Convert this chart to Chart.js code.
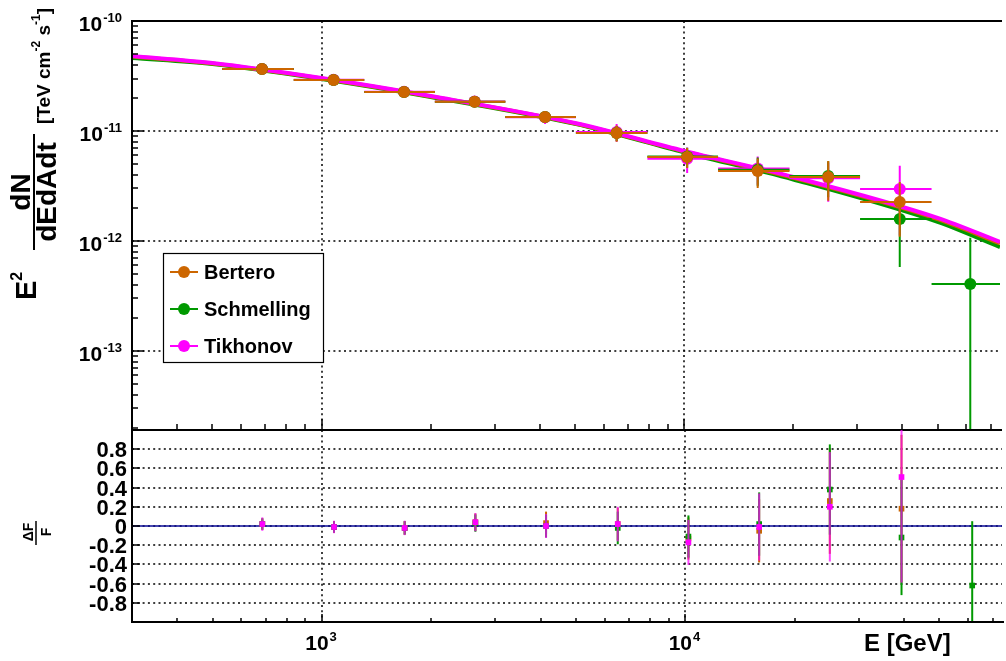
<!DOCTYPE html>
<html lang="en">
<head>
<meta charset="UTF-8">
<title>Unfolded spectrum</title>
<script src="https://cdn.jsdelivr.net/npm/chart.js"></script>
<style>
  body { margin: 0; background: #fff; }
  #wrap { position: relative; width: 1006px; height: 661px; }
  canvas { position: absolute; left: 0; top: 0; }
</style>
</head>
<body>
<div id="wrap">
  <canvas id="fluxChart" width="1006" height="661"></canvas>
  <canvas id="resChart" width="1006" height="661"></canvas>
</div>
<script>
// energy bins (GeV)
var energy   = [685, 1079, 1688, 2642, 4134, 6512, 10190, 15950, 24960, 39310, 61520];
var binEdges = [532, 838, 1311, 2053, 3212, 5028, 7916, 12400, 19520, 30550, 48110, 75290];

// unfolded flux E^2 dN/dEdAdt [TeV cm-2 s-1]
var berteroFlux    = [3.66e-11, 2.91e-11, 2.26e-11, 1.84e-11, 1.34e-11, 9.6e-12, 5.8e-12, 4.33e-12, 3.82e-12, 2.26e-12, null];
var berteroErr     = [2.2e-12, 1.8e-12, 1.6e-12, 1.6e-12, 1.6e-12, 1.6e-12, 1.2e-12, 1.3e-12, 1.5e-12, 1.17e-12, null];
var schmellingFlux = [3.66e-11, 2.91e-11, 2.26e-11, 1.84e-11, 1.34e-11, 9.6e-12, 5.85e-12, 4.45e-12, 3.90e-12, 1.58e-12, 4.07e-13];
var schmellingErr  = [2.2e-12, 1.8e-12, 1.6e-12, 1.6e-12, 1.6e-12, 1.5e-12, 1.2e-12, 1.3e-12, 1.4e-12, 1.0e-12, 6.6e-13];
var tikhonovFlux   = [3.67e-11, 2.92e-11, 2.27e-11, 1.85e-11, 1.33e-11, 9.8e-12, 5.6e-12, 4.55e-12, 3.72e-12, 2.97e-12, null];
var tikhonovErr    = [2.5e-12, 1.9e-12, 1.7e-12, 1.7e-12, 1.7e-12, 1.8e-12, 1.46e-12, 1.3e-12, 1.45e-12, 1.85e-12, null];

// fitted spectra
var fitEnergy     = [300, 500, 1000, 2000, 5000, 10000, 20000, 50000, 74300];
var berteroFit    = [4.75e-11, 4.10e-11, 3.00e-11, 2.06e-11, 1.17e-11, 6.50e-12, 3.75e-12, 1.58e-12, 9.5e-13];
var schmellingFit = [4.61e-11, 4.06e-11, 2.97e-11, 2.04e-11, 1.16e-11, 6.38e-12, 3.62e-12, 1.49e-12, 8.8e-13];
var tikhonovFit   = [4.81e-11, 4.15e-11, 3.03e-11, 2.08e-11, 1.18e-11, 6.58e-12, 3.82e-12, 1.62e-12, 9.8e-13];

// residuals dF/F
var berteroRes       = [0.02, -0.01, -0.02, 0.04, 0.03, 0.02, -0.13, -0.05, 0.26, 0.18, null];
var berteroResErr    = [0.06, 0.06, 0.07, 0.09, 0.12, 0.17, 0.22, 0.33, 0.55, 0.77, null];
var schmellingRes    = [0.02, -0.01, -0.02, 0.03, 0.0, -0.02, -0.11, 0.02, 0.38, -0.12, -0.62];
var schmellingResErr = [0.06, 0.06, 0.07, 0.09, 0.12, 0.17, 0.22, 0.33, 0.47, 0.60, 0.67];
var tikhonovRes      = [0.02, -0.01, -0.02, 0.04, 0.0, 0.02, -0.17, -0.01, 0.20, 0.51, null];
var tikhonovResErr   = [0.07, 0.065, 0.075, 0.095, 0.125, 0.18, 0.235, 0.35, 0.57, 1.10, null];

var seriesNames  = ['Bertero', 'Schmelling', 'Tikhonov'];
var seriesColors = ['rgb(204,102,0)', 'rgb(0,153,0)', 'rgb(255,0,255)'];

// axes
var xMin = 300, xMax = 74300;
var yMin = 1.91e-14, yMax = 1e-10;
var xLabelValues = [1000, 10000], xLabelExp = ['3', '4'];
var yLabelValues = [1e-10, 1e-11, 1e-12, 1e-13], yLabelExp = ['-10', '-11', '-12', '-13'];
var resTickValues = [0.8, 0.6, 0.4, 0.2, 0, -0.2, -0.4, -0.6, -0.8];
var resTickLabels = ['0.8', '0.6', '0.4', '0.2', '0', '-0.2', '-0.4', '-0.6', '-0.8'];

var FONT = "'Liberation Sans', Arial, Helvetica, sans-serif";

function logMinorTicks(lo, hi) {
  var out = [];
  for (var k = Math.floor(Math.log10(lo)); k <= Math.ceil(Math.log10(hi)); k++) {
    for (var m = 1; m <= 9; m++) {
      var v = m * Math.pow(10, k);
      if (v >= lo && v <= hi) out.push({ v: v, major: m === 1 });
    }
  }
  return out;
}

function pointsOf(vals, errs, withBins) {
  var out = [];
  energy.forEach(function (e, i) {
    if (vals[i] === null) return;
    var p = { x: e, y: vals[i], err: errs[i] };
    if (withBins) { p.xl = binEdges[i]; p.xh = binEdges[i + 1]; }
    out.push(p);
  });
  return out;
}

function curveOf(vals) {
  return fitEnergy.map(function (e, i) { return { x: e, y: vals[i] }; });
}

function drawErrors(chart, ds) {
  var ctx = chart.ctx, a = chart.chartArea, xs = chart.scales.x, ys = chart.scales.y;
  ctx.save();
  ctx.beginPath(); ctx.rect(a.left, a.top, a.right - a.left, a.bottom - a.top); ctx.clip();
  ctx.strokeStyle = ds.errColor || ds.backgroundColor;
  ctx.lineWidth = 2;
  ds.data.forEach(function (p) {
    var px = xs.getPixelForValue(p.x), py = ys.getPixelForValue(p.y);
    var lo = p.y - p.err;
    var pyLo = (ys.type === 'logarithmic' && lo <= 0) ? a.bottom + 5 : ys.getPixelForValue(lo);
    ctx.beginPath();
    ctx.moveTo(px, ys.getPixelForValue(p.y + p.err));
    ctx.lineTo(px, pyLo);
    if (p.xl) {
      ctx.moveTo(xs.getPixelForValue(p.xl), py);
      ctx.lineTo(xs.getPixelForValue(p.xh), py);
    }
    ctx.stroke();
  });
  ctx.restore();
}

// draw "10^exp"
function drawPower(ctx, exp, x, y, align, big, small, rise) {
  ctx.font = 'bold ' + big + 'px ' + FONT;
  var wb = ctx.measureText('10').width;
  ctx.font = 'bold ' + small + 'px ' + FONT;
  var ws = ctx.measureText(exp).width;
  var left = align === 'right' ? x - wb - ws - 1 : x - (wb + ws + 1) / 2;
  ctx.textAlign = 'left';
  ctx.textBaseline = 'alphabetic';
  ctx.font = 'bold ' + big + 'px ' + FONT;
  ctx.fillText('10', left, y);
  ctx.font = 'bold ' + small + 'px ' + FONT;
  ctx.fillText(exp, left + wb + 1, y - rise);
}

// rotated rich text, running upward from (x, y)
function drawRotRich(ctx, parts, x, y, center) {
  ctx.save();
  ctx.translate(x, y);
  ctx.rotate(-Math.PI / 2);
  ctx.textAlign = 'left';
  ctx.textBaseline = 'alphabetic';
  var total = 0;
  parts.forEach(function (p) { ctx.font = 'bold ' + p.size + 'px ' + FONT; total += ctx.measureText(p.t).width; });
  var pos = center ? -total / 2 : 0;
  parts.forEach(function (p) {
    ctx.font = 'bold ' + p.size + 'px ' + FONT;
    ctx.fillText(p.t, pos, -(p.rise || 0));
    pos += ctx.measureText(p.t).width;
  });
  ctx.restore();
}

function hLine(ctx, x1, x2, y) { ctx.beginPath(); ctx.moveTo(x1, y); ctx.lineTo(x2, y); ctx.stroke(); }
function vLine(ctx, x, y1, y2) { ctx.beginPath(); ctx.moveTo(x, y1); ctx.lineTo(x, y2); ctx.stroke(); }

var xTicks = logMinorTicks(xMin, xMax);
var yTicks = logMinorTicks(yMin, yMax);

var fluxDecor = {
  id: 'fluxDecor',
  beforeDatasetsDraw: function (chart) {
    var ctx = chart.ctx, a = chart.chartArea, xs = chart.scales.x, ys = chart.scales.y;
    ctx.save();
    ctx.strokeStyle = '#000'; ctx.lineWidth = 1.5; ctx.setLineDash([2, 3.3]);
    xLabelValues.forEach(function (v) { vLine(ctx, Math.round(xs.getPixelForValue(v)), a.top, a.bottom); });
    yLabelValues.slice(1).forEach(function (v) { hLine(ctx, a.left, a.right, Math.round(ys.getPixelForValue(v))); });
    ctx.restore();
  },
  beforeDatasetDraw: function (chart, args) {
    var ds = chart.data.datasets[args.index];
    if (ds.hasErrors) drawErrors(chart, ds);
  },
  afterDatasetsDraw: function (chart) {
    var ctx = chart.ctx, a = chart.chartArea, xs = chart.scales.x, ys = chart.scales.y;
    ctx.save();
    ctx.strokeStyle = '#000'; ctx.fillStyle = '#000'; ctx.lineWidth = 1.5;
    // ticks
    xTicks.forEach(function (t) {
      var px = Math.round(xs.getPixelForValue(t.v));
      vLine(ctx, px, a.bottom, a.bottom - (t.major ? 11 : 6));
    });
    yTicks.forEach(function (t) {
      var py = Math.round(ys.getPixelForValue(t.v));
      hLine(ctx, a.left, a.left + (t.major ? 12 : 6), py);
    });
    // frame
    ctx.lineWidth = 2;
    ctx.beginPath();
    ctx.moveTo(a.right + 2, a.top); ctx.lineTo(a.left, a.top); ctx.lineTo(a.left, a.bottom); ctx.lineTo(a.right + 2, a.bottom);
    ctx.stroke();
    // y labels
    yLabelValues.forEach(function (v, i) {
      drawPower(ctx, yLabelExp[i], 122, Math.round(ys.getPixelForValue(v)) + 10, 'right', 21, 13, 9);
    });
    // y title
    drawRotRich(ctx, [{ t: 'E', size: 29 }, { t: '2', size: 16, rise: 14 }], 36, 300, false);
    drawRotRich(ctx, [{ t: 'dN', size: 28 }], 30, 192, true);
    drawRotRich(ctx, [{ t: 'dEdAdt', size: 28 }], 56, 192, true);
    ctx.lineWidth = 2;
    vLine(ctx, 34, 134, 250);
    drawRotRich(ctx, [{ t: '[TeV cm', size: 19 }, { t: '-2', size: 12, rise: 10 }, { t: ' s', size: 19 },
      { t: '-1', size: 12, rise: 10 }, { t: ']', size: 19 }], 50, 124, false);
    // legend
    ctx.fillStyle = '#fff';
    ctx.fillRect(163, 253, 161, 110);
    ctx.strokeStyle = '#000'; ctx.lineWidth = 1.2;
    ctx.strokeRect(163.5, 253.5, 160, 109);
    var rows = [272, 309, 346];
    seriesNames.forEach(function (name, i) {
      ctx.strokeStyle = seriesColors[i]; ctx.lineWidth = 2;
      hLine(ctx, 170, 198, rows[i]);
      ctx.fillStyle = seriesColors[i];
      ctx.beginPath(); ctx.arc(184, rows[i], 6, 0, Math.PI * 2); ctx.fill();
      ctx.fillStyle = '#000';
      ctx.font = 'bold 20px ' + FONT; ctx.textAlign = 'left'; ctx.textBaseline = 'alphabetic';
      ctx.fillText(name, 204, rows[i] + 7);
    });
    ctx.restore();
  }
};

var resDecor = {
  id: 'resDecor',
  beforeDatasetsDraw: function (chart) {
    var ctx = chart.ctx, a = chart.chartArea, xs = chart.scales.x, ys = chart.scales.y;
    ctx.save();
    ctx.strokeStyle = '#000'; ctx.lineWidth = 1.5; ctx.setLineDash([2, 3.3]);
    xLabelValues.forEach(function (v) { vLine(ctx, Math.round(xs.getPixelForValue(v)), a.top, a.bottom); });
    resTickValues.forEach(function (v) { hLine(ctx, a.left, a.right, Math.round(ys.getPixelForValue(v))); });
    ctx.restore();
  },
  beforeDatasetDraw: function (chart, args) {
    var ds = chart.data.datasets[args.index];
    if (ds.hasErrors) drawErrors(chart, ds);
  },
  afterDatasetsDraw: function (chart) {
    var ctx = chart.ctx, a = chart.chartArea, xs = chart.scales.x, ys = chart.scales.y;
    ctx.save();
    ctx.strokeStyle = '#000'; ctx.fillStyle = '#000'; ctx.lineWidth = 1.5;
    xTicks.forEach(function (t) {
      var px = Math.round(xs.getPixelForValue(t.v));
      vLine(ctx, px, a.bottom, a.bottom - (t.major ? 8 : 4));
    });
    resTickValues.forEach(function (v) {
      hLine(ctx, a.left, a.left + 8, Math.round(ys.getPixelForValue(v)));
    });
    ctx.lineWidth = 2;
    ctx.beginPath();
    ctx.moveTo(a.left, a.top); ctx.lineTo(a.left, a.bottom); ctx.lineTo(a.right + 2, a.bottom);
    ctx.stroke();
    // y labels
    ctx.font = 'bold 22px ' + FONT; ctx.textAlign = 'right'; ctx.textBaseline = 'alphabetic';
    resTickValues.forEach(function (v, i) {
      ctx.fillText(resTickLabels[i], 127, Math.round(ys.getPixelForValue(v)) + 8);
    });
    // x labels
    xLabelValues.forEach(function (v, i) {
      drawPower(ctx, xLabelExp[i], xs.getPixelForValue(v) - 1, 650, 'center', 21, 13, 9);
    });
    ctx.font = 'bold 24px ' + FONT; ctx.textAlign = 'left';
    ctx.fillText('E [GeV]', 864, 651);
    // y title dF/F
    drawRotRich(ctx, [{ t: '\u0394F', size: 14 }], 33, 532, true);
    drawRotRich(ctx, [{ t: 'F', size: 14 }], 51, 532, true);
    ctx.lineWidth = 1.5;
    vLine(ctx, 36, 521, 545);
    ctx.restore();
  }
};

function curveSet(vals, color, order) {
  return { data: curveOf(vals), showLine: true, borderColor: color, borderWidth: 4, pointRadius: 0,
    cubicInterpolationMode: 'monotone', order: order };
}
function pointSet(vals, errs, color, order) {
  return { data: pointsOf(vals, errs, true), hasErrors: true, showLine: false, pointStyle: 'circle',
    pointRadius: 6, pointBorderWidth: 0, backgroundColor: color, borderColor: color, order: order };
}
function resSet(vals, errs, color, order, errColor) {
  return { data: pointsOf(vals, errs, false), hasErrors: true, errColor: errColor, showLine: false,
    pointStyle: 'rect', pointRadius: 4, pointBorderWidth: 0, backgroundColor: color, borderColor: color, order: order };
}

var baseOptions = function (pad, yScale) {
  return {
    responsive: false,
    animation: false,
    events: [],
    layout: { padding: pad },
    plugins: { legend: { display: false }, tooltip: { enabled: false } },
    scales: {
      x: { type: 'logarithmic', min: xMin, max: xMax, display: false },
      y: yScale
    }
  };
};

new Chart(document.getElementById('fluxChart'), {
  type: 'scatter',
  data: {
    datasets: [
      curveSet(schmellingFit, seriesColors[1], 6),
      curveSet(berteroFit, seriesColors[0], 5),
      curveSet(tikhonovFit, seriesColors[2], 4),
      pointSet(tikhonovFlux, tikhonovErr, seriesColors[2], 3),
      pointSet(schmellingFlux, schmellingErr, seriesColors[1], 2),
      pointSet(berteroFlux, berteroErr, seriesColors[0], 1)
    ]
  },
  options: baseOptions({ left: 132, top: 21, right: 0, bottom: 661 - 430 },
    { type: 'logarithmic', min: yMin, max: yMax, display: false }),
  plugins: [fluxDecor]
});

new Chart(document.getElementById('resChart'), {
  type: 'scatter',
  data: {
    datasets: [
      { data: [{ x: xMin, y: 0 }, { x: xMax, y: 0 }], showLine: true, borderColor: 'rgb(10,10,150)',
        borderWidth: 1.5, pointRadius: 0, order: 4 },
      resSet(berteroRes, berteroResErr, seriesColors[0], 3),
      resSet(schmellingRes, schmellingResErr, seriesColors[1], 2),
      resSet(tikhonovRes, tikhonovResErr, seriesColors[2], 1, 'rgba(255,0,255,0.72)')
    ]
  },
  options: baseOptions({ left: 132, top: 430, right: 0, bottom: 661 - 622 },
    { type: 'linear', min: -1, max: 1, display: false }),
  plugins: [resDecor]
});
</script>
</body>
</html>
